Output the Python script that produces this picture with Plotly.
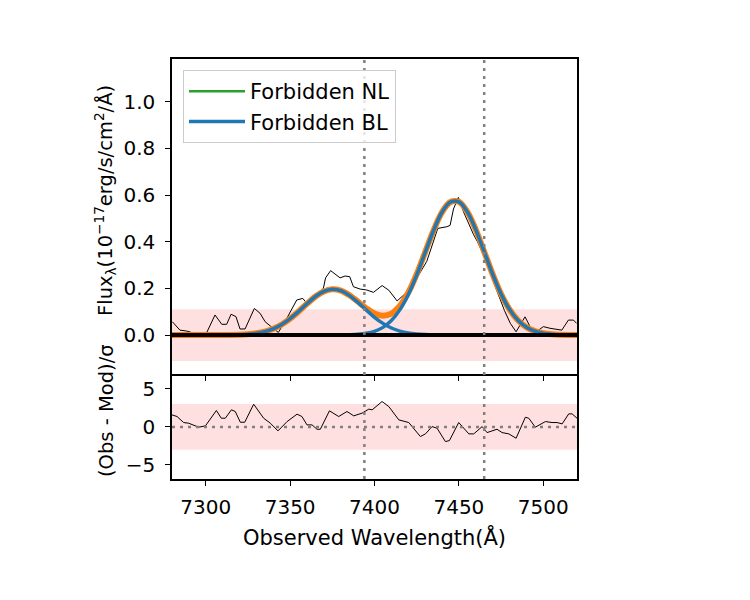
import plotly.graph_objects as go

# ---------------- data ----------------
wave_obs = [7280.2, 7284.7, 7288.7, 7291.6, 7300.6, 7305.5, 7309.5, 7312.4, 7315.0, 7317.9,
            7320.3, 7323.3, 7328.8, 7332.2, 7335.2, 7338.1, 7343.0, 7348.0, 7353.9, 7357.5,
            7359.9, 7369.7, 7371.0, 7374.0, 7376.5, 7379.6, 7382.6, 7385.3, 7387.5, 7391.5,
            7395.4, 7399.4, 7404.5, 7408.5, 7413.4, 7419.1, 7426.0, 7431.0, 7437.5, 7442.8,
            7444.8, 7446.8, 7449.7, 7452.7, 7458.6, 7461.0, 7464.5, 7468.0, 7472.5, 7477.0,
            7480.5, 7483.9, 7489.2, 7492.2, 7494.2, 7497.0, 7500.1, 7504.0, 7508.0, 7511.0,
            7514.9, 7517.9, 7519.8]
flux_obs = [0.057, 0.021, 0.017, 0.011, 0.011, 0.086, 0.046, 0.046, 0.089, 0.079,
            0.026, 0.026, 0.114, 0.093, 0.057, 0.040, 0.011, 0.071, 0.150, 0.157,
            0.136, 0.200, 0.245, 0.276, 0.262, 0.245, 0.253, 0.250, 0.207, 0.197,
            0.193, 0.183, 0.212, 0.192, 0.146, 0.183, 0.255, 0.316, 0.457, 0.464,
            0.470, 0.540, 0.590, 0.529, 0.432, 0.400, 0.345, 0.275, 0.190, 0.105,
            0.050, 0.014, 0.078, 0.036, 0.014, 0.020, 0.036, 0.029, 0.024, 0.021,
            0.064, 0.064, 0.050]

wave_res = [7280.0, 7283.0, 7286.9, 7289.9, 7295.8, 7299.8, 7306.3, 7309.2, 7311.6, 7315.2,
            7317.5, 7320.5, 7323.1, 7328.4, 7334.3, 7338.3, 7342.8, 7348.2, 7354.1, 7357.0,
            7360.0, 7363.0, 7365.9, 7367.9, 7373.3, 7378.8, 7383.7, 7387.7, 7392.6, 7396.6,
            7398.6, 7404.5, 7408.5, 7414.4, 7420.3, 7427.2, 7430.2, 7434.1, 7437.1, 7442.0,
            7444.4, 7449.9, 7455.9, 7458.8, 7463.8, 7466.7, 7472.6, 7475.6, 7479.6, 7483.9,
            7489.4, 7491.4, 7495.3, 7501.3, 7505.2, 7508.2, 7511.2, 7515.1, 7517.1, 7520.0]
resid = [1.58, 1.36, 0.57, 0.48, -0.04, 0.13, 2.15, 1.14, 1.14, 2.24,
         2.02, 0.61, 0.61, 2.98, 1.14, 0.48, -0.53, 0.70, 1.67, 1.36,
         0.26, 0.26, -0.31, -0.31, 2.11, 1.36, 2.02, 1.45, 1.80, 2.33,
         2.24, 3.33, 2.67, 0.92, 0.57, -1.27, -0.92, 0.04, -0.18, -1.93,
         -1.80, 0.57, -0.92, -0.92, 0.04, -0.75, -0.31, -0.75, -0.92, -1.49,
         1.27, 1.14, -0.04, 0.70, 0.57, 0.57, 0.39, 1.71, 1.71, 1.14]

wave_mod = [7280, 7285, 7290, 7295, 7300, 7305, 7310, 7315, 7320, 7325,
            7330, 7335, 7340, 7345, 7350, 7355, 7360, 7365, 7370, 7375,
            7380, 7385, 7390, 7395, 7400, 7405, 7410, 7415, 7420, 7425,
            7430, 7435, 7440, 7445, 7450, 7455, 7460, 7465, 7470, 7475,
            7480, 7485, 7490, 7495, 7500, 7505, 7510, 7515, 7520]
bl_1 = [0, 0, 0, 0, 0, 0.0001, 0.0002, 0.0006, 0.0015, 0.0035,
        0.0075, 0.0147, 0.0268, 0.0452, 0.0703, 0.101, 0.134, 0.165, 0.187, 0.196,
        0.190, 0.170, 0.141, 0.108, 0.076, 0.050, 0.030, 0.017, 0.0086, 0.0041,
        0.0018, 0.0007, 0.0003, 0, 0, 0, 0, 0, 0, 0,
        0, 0, 0, 0, 0, 0, 0, 0, 0]
bl_2 = [0, 0, 0, 0, 0, 0, 0, 0, 0, 0,
        0, 0, 0, 0, 0, 0, 0, 0, 0, 0,
        0.0004, 0.0012, 0.003, 0.0073, 0.0161, 0.0328, 0.0619, 0.1077, 0.173, 0.257,
        0.353, 0.448, 0.526, 0.570, 0.571, 0.528, 0.452, 0.357, 0.261, 0.176,
        0.110, 0.0634, 0.0338, 0.0166, 0.0076, 0.0032, 0.0012, 0.0004, 0.0001]
nl = [0] * len(wave_mod)
total = [a + b + c for a, b, c in zip(bl_1, bl_2, nl)]

line_marks = [7394, 7465]
flux_sigma_band = 0.111
resid_band = 3
x_range = [7280, 7520]
x_ticks = [7300, 7350, 7400, 7450, 7500]
y_ticks = [0.0, 0.2, 0.4, 0.6, 0.8, 1.0]
y_tick_text = ["0.0", "0.2", "0.4", "0.6", "0.8", "1.0"]
r_ticks = [-5, 0, 5]
r_tick_text = ["\u22125", "0", "5"]

# ---------------- figure ----------------
W, H = 750, 600
L, R = 172, 577
T1, B1, B2 = 59, 374, 479
xd = [L / W, R / W]
yd1 = [1 - B1 / H, 1 - T1 / H]
yd2 = [1 - B2 / H, 1 - B1 / H]

ORANGE = "#ff7f0e"
BLUE = "#1f77b4"
GREEN = "#2ca02c"
FS = 21
TFS = 20
YFS = 19.5

fig = go.Figure()
fig.add_trace(go.Scatter(x=wave_obs, y=flux_obs, mode="lines", line=dict(color="black", width=1),
                         showlegend=False, xaxis="x", yaxis="y"))
fig.add_trace(go.Scatter(x=wave_mod, y=total, mode="lines", line=dict(color=ORANGE, width=6, shape="spline"),
                         showlegend=False, xaxis="x", yaxis="y"))
fig.add_trace(go.Scatter(x=wave_mod, y=bl_1, mode="lines", line=dict(color=BLUE, width=3.5, shape="spline"),
                         name="Forbidden BL", legendrank=2, xaxis="x", yaxis="y"))
fig.add_trace(go.Scatter(x=wave_mod, y=bl_2, mode="lines", line=dict(color=BLUE, width=3.5, shape="spline"),
                         showlegend=False, xaxis="x", yaxis="y"))
fig.add_trace(go.Scatter(x=wave_mod, y=nl, mode="lines", line=dict(color=GREEN, width=2.5),
                         name="Forbidden NL", legendrank=1, xaxis="x", yaxis="y"))
fig.add_trace(go.Scatter(x=wave_mod, y=nl, mode="lines", line=dict(color="black", width=4),
                         showlegend=False, xaxis="x", yaxis="y"))
fig.add_trace(go.Scatter(x=wave_res, y=resid, mode="lines", line=dict(color="black", width=1),
                         showlegend=False, xaxis="x2", yaxis="y2"))

shapes = [
    dict(type="rect", xref="x", yref="y", x0=x_range[0], x1=x_range[1],
         y0=-flux_sigma_band, y1=flux_sigma_band, fillcolor="#ffe0e0", line=dict(width=0), layer="below"),
    dict(type="rect", xref="x2", yref="y2", x0=x_range[0], x1=x_range[1],
         y0=-resid_band, y1=resid_band, fillcolor="#ffe0e0", line=dict(width=0), layer="below"),
    dict(type="line", xref="x2", yref="y2", x0=x_range[0], x1=x_range[1], y0=0, y1=0,
         line=dict(color="gray", width=2.5, dash="3px,5px")),
]
for xm in line_marks:
    shapes.append(dict(type="line", xref="x", yref="paper", x0=xm, x1=xm, y0=yd2[0], y1=yd1[1],
                       line=dict(color="gray", width=2.5, dash="3px,5px")))

axis_common = dict(showline=True, linecolor="black", linewidth=1.5,
                   ticks="outside", ticklen=5, tickwidth=1.2, tickcolor="black",
                   showgrid=False, zeroline=False, tickfont=dict(size=TFS))

fig.update_layout(
    width=W, height=H, margin=dict(l=0, r=0, t=0, b=0),
    plot_bgcolor="white", paper_bgcolor="white",
    font=dict(family="DejaVu Sans", size=FS, color="black"),
    xaxis=dict(domain=xd, range=x_range, anchor="y", tickvals=x_ticks, showticklabels=False,
               mirror=True, **axis_common),
    yaxis=dict(domain=yd1, range=[-0.167, 1.183], anchor="x", tickvals=y_ticks, ticktext=y_tick_text,
               ticklabelstandoff=6, mirror=True, **axis_common),
    xaxis2=dict(domain=xd, range=x_range, anchor="y2", tickvals=x_ticks, matches="x",
                ticklabelstandoff=4, mirror=False, **axis_common),
    yaxis2=dict(domain=yd2, range=[-6.85, 6.95], anchor="x2", tickvals=r_ticks, ticktext=r_tick_text,
                ticklabelstandoff=6, mirror=True, **axis_common),
    shapes=shapes,
    legend=dict(x=183 / W, y=1 - 70 / H, xanchor="left", yanchor="top",
                bgcolor="rgba(255,255,255,0.8)", bordercolor="#cccccc", borderwidth=1,
                font=dict(size=FS), traceorder="normal", itemwidth=56),
    annotations=[
        dict(text="Observed Wavelength(Å)", x=(L + R) / 2 / W, y=1 - 537 / H, xref="paper", yref="paper",
             xanchor="center", yanchor="middle", showarrow=False, font=dict(size=FS)),
        dict(text="Flux<sub>λ</sub>(10<sup>−17</sup>erg/s/cm<sup>2</sup>/Å)", x=105 / W, y=1 - 201 / H,
             xref="paper", yref="paper", xanchor="center", yanchor="middle", textangle=-90, showarrow=False,
             font=dict(size=YFS)),
        dict(text="(Obs - Mod)/σ", x=106 / W, y=1 - 411 / H, xref="paper", yref="paper",
             xanchor="center", yanchor="middle", textangle=-90, showarrow=False, font=dict(size=YFS)),
    ],
)

fig.write_html("out.html")
